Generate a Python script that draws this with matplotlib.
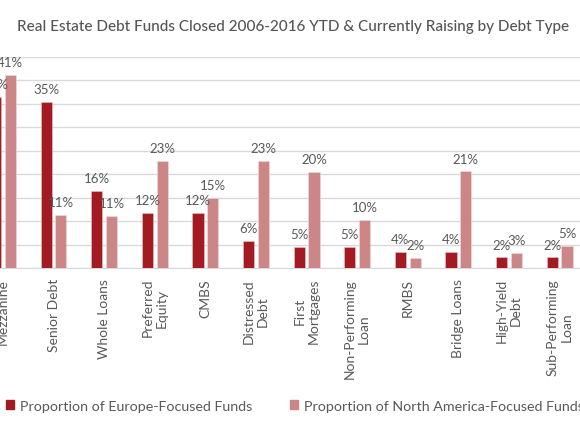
import numpy as np
import matplotlib.pyplot as plt
from matplotlib.patches import Patch

plt.rcParams['font.family'] = ['Lato', 'DejaVu Sans']

# ------------------------
# Data
categories = ["Mezzanine", "Senior Debt", "Whole Loans", "Preferred\nEquity", "CMBS",
              "Distressed\nDebt", "First\nMortgages", "Non-Performing\nLoan", "RMBS",
              "Bridge Loans", "High-Yield\nDebt", "Sub-Performing\nLoan"]
europe = [36.5, 35.3, 16.4, 11.8, 11.7, 5.9, 4.6, 4.6, 3.4, 3.4, 2.3, 2.3]
europe_labels = ["37%", "35%", "16%", "12%", "12%", "6%", "5%", "5%", "4%", "4%", "2%", "2%"]
north_america = [41.2, 11.4, 11.1, 22.9, 15.0, 22.9, 20.4, 10.3, 2.2, 20.6, 3.3, 4.7]
na_labels = ["41%", "11%", "11%", "23%", "15%", "23%", "20%", "10%", "2%", "21%", "3%", "5%"]

c_eu = '#a31a22'
c_na = '#cc8688'
grey = '#595959'

# ------------------------
# Plot
fig = plt.figure(figsize=(5.8, 4.35), dpi=100)
ax = fig.add_axes([0, 0.381, 1, 0.486])

x = np.arange(len(categories))
w = 0.22
off = 0.145
b1 = ax.bar(x - off, europe, w, color=c_eu, edgecolor='#e8c5c6', linewidth=0.4, zorder=3)
b2 = ax.bar(x + off, north_america, w, color=c_na, edgecolor='#f0dcdc', linewidth=0.4, zorder=3)

for bar, lab in zip(b1, europe_labels):
    ax.annotate(lab, (bar.get_x() + bar.get_width() / 2, bar.get_height()),
                xytext=(0, 5), textcoords='offset points', ha='center', va='bottom',
                fontsize=9.5, color=grey, annotation_clip=False)
for bar, lab in zip(b2, na_labels):
    ax.annotate(lab, (bar.get_x() + bar.get_width() / 2, bar.get_height()),
                xytext=(0, 5), textcoords='offset points', ha='center', va='bottom',
                fontsize=9.5, color=grey, annotation_clip=False)

ax.set_xlim(-0.059, 11.403)
ax.set_ylim(0, 45)
ax.set_yticks(np.arange(0, 46, 5))
ax.set_yticklabels([])
ax.grid(axis='y', color='#d9d9d9', linewidth=1, zorder=0)
ax.tick_params(axis='y', length=0)
ax.set_xticks(x)
ax.set_xticklabels(categories, rotation=90, fontsize=10, color=grey,
                   multialignment='center')
ax.tick_params(axis='x', length=0, pad=7)
for s in ['top', 'right', 'left']:
    ax.spines[s].set_visible(False)
ax.spines['bottom'].set_color('#d9d9d9')

fig.text(0.505, 1 - 27 / 435, "Real Estate Debt Funds Closed 2006-2016 YTD & Currently Raising by Debt Type",
         ha='center', va='center', fontsize=11, color='#555555', fontweight='medium')

handles = [Patch(color=c_eu, label="Proportion of Europe-Focused Funds"),
           Patch(color=c_na, label="Proportion of North America-Focused Funds")]
fig.legend(handles=handles, loc='center left', bbox_to_anchor=(0.01, 1 - 407 / 435), ncol=2,
           frameon=False, fontsize=10.3, labelcolor=grey, handlelength=0.6, handleheight=0.6,
           handletextpad=0.4, columnspacing=2.6, borderaxespad=0, borderpad=0)

fig.savefig("out.png", dpi=100)
